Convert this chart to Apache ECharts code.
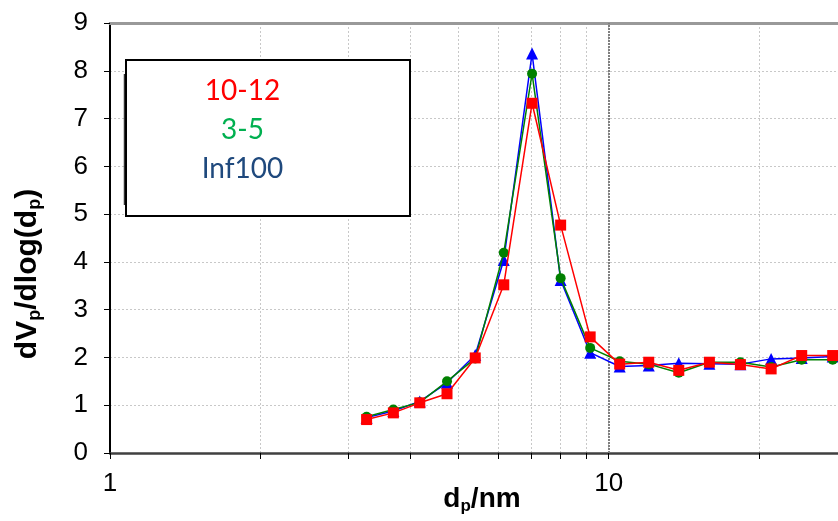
<!DOCTYPE html>
<html>
<head>
<meta charset="utf-8">
<script src="https://cdn.jsdelivr.net/npm/echarts@6/dist/echarts.min.js"></script>
<style>
html,body{margin:0;padding:0;background:#fff;}
#chart{width:838px;height:521px;}
</style>
</head>
<body>
<div id="chart"></div>
<script>
// ---- data ----
const poreSizes = [3.27, 3.70, 4.18, 4.74, 5.40, 6.16, 7.02, 8.01, 9.18, 10.52, 12.03, 13.82, 15.92, 18.37, 21.17, 24.38, 28.13];
const series1012 = [0.70, 0.84, 1.05, 1.24, 1.99, 3.52, 7.32, 4.77, 2.43, 1.86, 1.90, 1.73, 1.90, 1.85, 1.76, 2.04, 2.04];
const series35   = [0.76, 0.91, 1.06, 1.50, 1.98, 4.19, 7.94, 3.66, 2.20, 1.92, 1.86, 1.68, 1.90, 1.90, 1.80, 1.95, 1.95];
const seriesInf100 = [0.74, 0.88, 1.08, 1.47, 2.05, 4.04, 8.36, 3.62, 2.10, 1.81, 1.83, 1.88, 1.87, 1.86, 1.97, 1.99, 2.02];
const seriesNames = ['10-12', '3-5', 'Inf100'];
const xTickValues = [1, 2, 3, 4, 5, 6, 7, 8, 9, 10, 20];
const xLabelValues = [1, 10];
const yTicks = [0, 1, 2, 3, 4, 5, 6, 7, 8, 9];

const X_MIN = 1, X_MAX = Math.pow(10, 728 / 498.7);

function pairs(ys) { return poreSizes.map((x, i) => [x, ys[i]]); }

const chart = echarts.init(document.getElementById('chart'), null, {renderer: 'canvas'});
const font = "'Liberation Sans', Arial, sans-serif";

const option = {
  animation: false,
  backgroundColor: '#fff',
  grid: {left: 110, right: 0, top: 23, bottom: 68, containLabel: false, outerBoundsMode: 'none'},
  xAxis: [{
    type: 'log', logBase: 10, min: X_MIN, max: X_MAX,
    axisLine: {onZero: false, lineStyle: {color: '#404040', width: 2.5}},
    axisTick: {show: true, inside: false, length: 6, customValues: xTickValues, lineStyle: {color: '#000', width: 1}},
    axisLabel: {customValues: xLabelValues, margin: 18, color: '#000', fontSize: 26, fontFamily: font,
      formatter: v => String(Math.round(v))},
    splitLine: {show: true, lineStyle: {color: '#c8c8c8', width: 1, type: [2, 2]}},
    name: '{b|d}{s|p}{b|/nm}',
    nameLocation: 'middle', nameGap: 31, nameMoveOverlap: false,
    nameTextStyle: {padding: [0, 0, 0, 16], rich: {
      b: {fontSize: 28, fontWeight: 'bold', fontFamily: font, color: '#000', lineHeight: 30},
      s: {fontSize: 17, fontWeight: 'bold', fontFamily: font, color: '#000', lineHeight: 17, padding: [14, 0, 0, 0]}
    }}
  }, {
    type: 'log', logBase: 10, min: X_MIN, max: X_MAX, position: 'top',
    axisLine: {show: true, onZero: false, lineStyle: {color: '#999', width: 3}},
    axisTick: {show: false}, axisLabel: {show: false}, splitLine: {show: false}
  }],
  yAxis: {
    type: 'value', min: 0, max: 9, interval: 1,
    axisLine: {show: true, onZero: false, lineStyle: {color: '#000', width: 2}},
    axisTick: {show: true, inside: false, length: 6, lineStyle: {color: '#000'}},
    axisLabel: {margin: 22, color: '#000', fontSize: 26, fontFamily: font,
      formatter: v => yTicks.includes(v) ? String(v) : ''},
    splitLine: {show: true, lineStyle: {color: '#c8c8c8', width: 1, type: [2, 2]}},
    name: '{b|dV}{s|p}{b|/dlog(d}{s|p}{b|)}',
    nameLocation: 'middle', nameGap: 66, nameRotate: 90, nameMoveOverlap: false,
    nameTextStyle: {padding: [0, 72, 0, 0], rich: {
      b: {fontSize: 30, fontWeight: 'bold', fontFamily: font, color: '#000', lineHeight: 32},
      s: {fontSize: 18, fontWeight: 'bold', fontFamily: font, color: '#000', lineHeight: 18, padding: [15, 0, 0, 0]}
    }}
  },
  series: [
    {
      name: seriesNames[2], type: 'line', data: pairs(seriesInf100), z: 2,
      symbol: 'triangle', symbolSize: 12,
      itemStyle: {color: '#0000ff'}, lineStyle: {color: '#0000ff', width: 1.5},
      markLine: {silent: true, symbol: 'none', label: {show: false},
        lineStyle: {color: '#7f7f7f', width: 2, type: [2, 1]}, data: [{xAxis: 10}], z: 1}
    },
    {
      name: seriesNames[1], type: 'line', data: pairs(series35), z: 3,
      symbol: 'circle', symbolSize: 10,
      itemStyle: {color: '#008000'}, lineStyle: {color: '#008000', width: 1.5}
    },
    {
      name: seriesNames[0], type: 'line', data: pairs(series1012), z: 4,
      symbol: 'rect', symbolSize: 11,
      itemStyle: {color: '#ff0000'}, lineStyle: {color: '#ff0000', width: 1.5}
    }
  ],
  graphic: [
    {type: 'line', shape: {x1: 124.5, y1: 74, x2: 124.5, y2: 205}, style: {stroke: '#333', lineWidth: 1.5}, z: 100},
    {type: 'rect', shape: {x: 126, y: 60, width: 284, height: 156}, style: {fill: '#fff', stroke: '#000', lineWidth: 2}, z: 100},
    {type: 'text', x: 242.5, y: 91, z: 101, style: {text: seriesNames[0], fill: '#ff0000', font: "28px Lato, 'Open Sans', sans-serif", textAlign: 'center', textVerticalAlign: 'middle'}},
    {type: 'text', x: 242.5, y: 130, z: 101, style: {text: seriesNames[1], fill: '#00b050', font: "28px Lato, 'Open Sans', sans-serif", textAlign: 'center', textVerticalAlign: 'middle'}},
    {type: 'text', x: 242.5, y: 168.5, z: 101, style: {text: seriesNames[2], fill: '#1f497d', font: "28px Lato, 'Open Sans', sans-serif", textAlign: 'center', textVerticalAlign: 'middle'}}
  ]
};
chart.setOption(option);
</script>
</body>
</html>
